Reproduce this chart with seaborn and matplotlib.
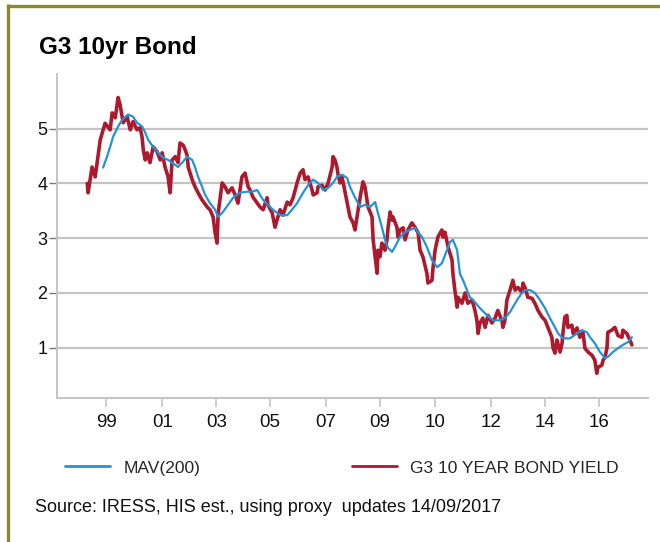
import numpy as np
import pandas as pd
import seaborn as sns
import matplotlib
matplotlib.use("Agg")
import matplotlib.pyplot as plt
from matplotlib.lines import Line2D

# G3 10-year bond yield (decimal years, percent)
yield_years = [
    1998.40, 1998.43, 1998.57, 1998.68, 1998.86, 1999.03, 1999.21, 1999.28, 1999.39, 1999.49,
    1999.56, 1999.67, 1999.81, 1999.92, 2000.02, 2000.16, 2000.27, 2000.34, 2000.38, 2000.45,
    2000.52, 2000.62, 2000.73, 2000.87, 2000.98, 2001.05, 2001.15, 2001.26, 2001.33, 2001.40,
    2001.51, 2001.61, 2001.68, 2001.79, 2001.86, 2001.93, 2001.97, 2002.11, 2002.21, 2002.32,
    2002.46, 2002.64, 2002.74, 2002.85, 2002.92, 2002.99, 2003.03, 2003.17, 2003.27, 2003.38,
    2003.52, 2003.63, 2003.73, 2003.87, 2003.98, 2004.09, 2004.16, 2004.26, 2004.41, 2004.51,
    2004.62, 2004.76, 2004.79, 2004.94, 2005.04, 2005.11, 2005.22, 2005.32, 2005.47, 2005.57,
    2005.68, 2005.82, 2005.93, 2006.03, 2006.10, 2006.21, 2006.35, 2006.39, 2006.53, 2006.56,
    2006.70, 2006.81, 2006.92, 2007.06, 2007.09, 2007.16, 2007.23, 2007.27, 2007.34, 2007.41,
    2007.52, 2007.59, 2007.69, 2007.80, 2007.87, 2007.94, 2008.05, 2008.15, 2008.22, 2008.29,
    2008.33, 2008.47, 2008.51, 2008.58, 2008.65, 2008.68, 2008.75, 2008.82, 2008.93, 2009.00,
    2009.04, 2009.11, 2009.18, 2009.21, 2009.35, 2009.39, 2009.46, 2009.57, 2009.64, 2009.74,
    2009.88, 2009.99, 2010.10, 2010.17, 2010.27, 2010.41, 2010.45, 2010.59, 2010.63, 2010.70,
    2010.80, 2010.94, 2010.98, 2011.05, 2011.16, 2011.30, 2011.33, 2011.40, 2011.48, 2011.51,
    2011.65, 2011.76, 2011.86, 2012.01, 2012.11, 2012.18, 2012.22, 2012.29, 2012.39, 2012.47,
    2012.57, 2012.71, 2012.82, 2012.92, 2013.07, 2013.10, 2013.17, 2013.24, 2013.35, 2013.45,
    2013.53, 2013.63, 2013.77, 2013.81, 2013.88, 2013.98, 2014.13, 2014.23, 2014.34, 2014.48,
    2014.59, 2014.69, 2014.83, 2014.87, 2014.94, 2015.01, 2015.12, 2015.19, 2015.22, 2015.29,
    2015.36, 2015.40, 2015.54, 2015.58, 2015.72, 2015.82, 2015.93, 2016.00, 2016.11, 2016.25,
    2016.35, 2016.42, 2016.46, 2016.60, 2016.64, 2016.71, 2016.78, 2016.81, 2016.95, 2017.06,
    2017.17, 2017.31, 2017.34, 2017.48, 2017.59, 2017.66,
]
yield_values = [
    4.00, 3.83, 4.30, 4.12, 4.80, 5.10, 4.98, 5.29, 5.20, 5.57,
    5.44, 5.11, 5.22, 4.98, 5.13, 4.98, 5.02, 4.84, 4.62, 4.43,
    4.56, 4.38, 4.67, 4.58, 4.43, 4.56, 4.30, 4.12, 3.83, 4.43,
    4.49, 4.38, 4.74, 4.70, 4.62, 4.52, 4.30, 4.07, 3.94, 3.83,
    3.70, 3.57, 3.52, 3.39, 3.10, 2.91, 3.46, 4.01, 3.94, 3.83,
    3.92, 3.79, 3.64, 4.12, 4.19, 3.94, 3.88, 3.75, 3.64, 3.57,
    3.52, 3.74, 3.61, 3.46, 3.20, 3.33, 3.52, 3.42, 3.66, 3.61,
    3.74, 4.01, 4.19, 4.25, 4.07, 4.12, 3.88, 3.79, 3.83, 3.94,
    3.97, 3.88, 4.01, 4.30, 4.49, 4.43, 4.30, 4.16, 4.01, 4.12,
    3.83, 3.64, 3.39, 3.28, 3.15, 3.39, 3.75, 4.03, 3.94, 3.70,
    3.57, 3.39, 2.97, 2.66, 2.36, 2.78, 2.66, 2.91, 2.78, 2.97,
    3.20, 3.48, 3.33, 3.39, 3.20, 3.02, 3.15, 3.19, 2.97, 3.15,
    3.28, 3.20, 3.10, 2.78, 2.66, 2.36, 2.18, 2.23, 2.47, 2.78,
    3.02, 3.15, 3.02, 3.11, 2.84, 2.60, 2.36, 2.05, 1.74, 1.92,
    1.81, 2.00, 1.81, 1.87, 1.68, 1.50, 1.26, 1.45, 1.54, 1.37,
    1.59, 1.45, 1.54, 1.68, 1.48, 1.37, 1.50, 1.87, 2.05, 2.23,
    2.05, 2.10, 2.01, 2.18, 2.10, 1.92, 1.90, 1.81, 1.68, 1.56,
    1.50, 1.37, 1.19, 1.00, 0.90, 1.14, 0.92, 1.08, 1.26, 1.56,
    1.59, 1.37, 1.41, 1.26, 1.36, 1.19, 1.28, 0.99, 0.92, 0.86,
    0.77, 0.53, 0.64, 0.68, 0.77, 0.82, 1.00, 1.28, 1.32, 1.37,
    1.22, 1.19, 1.32, 1.26, 1.14, 1.05,
]

# 200-day moving average of the yield
mav_years = [
    1998.96, 1999.10, 1999.21, 1999.31, 1999.49, 1999.63, 1999.84, 2000.02, 2000.16, 2000.34,
    2000.45, 2000.55, 2000.73, 2000.91, 2001.08, 2001.26, 2001.51, 2001.61, 2001.79, 2001.93,
    2002.11, 2002.21, 2002.32, 2002.46, 2002.57, 2002.74, 2002.92, 2003.03, 2003.20, 2003.38,
    2003.56, 2003.80, 2004.05, 2004.23, 2004.41, 2004.51, 2004.62, 2004.79, 2004.97, 2005.22,
    2005.47, 2005.64, 2005.82, 2006.03, 2006.21, 2006.39, 2006.56, 2006.74, 2006.92, 2007.09,
    2007.23, 2007.41, 2007.59, 2007.69, 2007.87, 2008.05, 2008.22, 2008.40, 2008.58, 2008.68,
    2008.82, 2008.93, 2009.04, 2009.18, 2009.28, 2009.46, 2009.64, 2009.81, 2009.99, 2010.10,
    2010.24, 2010.41, 2010.59, 2010.77, 2010.94, 2011.12, 2011.23, 2011.33, 2011.48, 2011.58,
    2011.69, 2011.83, 2011.93, 2012.04, 2012.29, 2012.54, 2012.75, 2012.99, 2013.17, 2013.35,
    2013.60, 2013.77, 2013.88, 2014.06, 2014.23, 2014.41, 2014.59, 2014.76, 2014.94, 2015.05,
    2015.22, 2015.47, 2015.72, 2015.89, 2016.07, 2016.18, 2016.35, 2016.53, 2016.71, 2016.81,
    2016.99, 2017.17, 2017.34, 2017.52, 2017.66,
]
mav_values = [
    4.29, 4.49, 4.67, 4.85, 5.04, 5.16, 5.26, 5.22, 5.11, 5.04,
    4.93, 4.80, 4.67, 4.56, 4.47, 4.43, 4.34, 4.30, 4.40, 4.49,
    4.43, 4.30, 4.12, 3.94, 3.79, 3.64, 3.52, 3.39, 3.48, 3.61,
    3.74, 3.83, 3.85, 3.85, 3.88, 3.79, 3.70, 3.61, 3.52, 3.42,
    3.42, 3.52, 3.64, 3.83, 3.97, 4.07, 4.01, 3.88, 3.92, 4.01,
    4.12, 4.16, 4.10, 3.94, 3.74, 3.57, 3.61, 3.57, 3.66, 3.46,
    3.20, 2.97, 2.82, 2.75, 2.84, 3.02, 3.11, 3.15, 3.19, 3.11,
    3.02, 2.84, 2.60, 2.47, 2.54, 2.78, 2.93, 2.97, 2.78, 2.35,
    2.23, 2.05, 1.92, 1.87, 1.72, 1.59, 1.50, 1.50, 1.54, 1.65,
    1.87, 2.00, 2.05, 2.05, 2.00, 1.87, 1.72, 1.54, 1.37, 1.26,
    1.17, 1.17, 1.26, 1.32, 1.28, 1.19, 1.08, 0.92, 0.81, 0.83,
    0.92, 0.99, 1.05, 1.10, 1.19,
]

tick_years = [1999.07, 2001.05, 2002.96, 2004.87, 2006.84, 2008.75, 2010.70, 2012.68, 2014.59, 2016.49]
tick_labels = ["99", "01", "03", "05", "07", "09", "10", "12", "14", "16"]
y_ticks = [1, 2, 3, 4, 5]

series_names = ["MAV(200)", "G3 10 YEAR BOND YIELD"]
colors = {"MAV(200)": "#2393d6", "G3 10 YEAR BOND YIELD": "#ad1a2e"}

yield_df = pd.DataFrame({"year": yield_years, "value": yield_values})
mav_df = pd.DataFrame({"year": mav_years, "value": mav_values})

sns.set_style("white")
plt.rcParams["font.family"] = ["Liberation Sans", "DejaVu Sans"]

fig = plt.figure(figsize=(6.6, 5.42), dpi=100)
ax = fig.add_axes([57 / 660, 1 - 398 / 542, (648 - 57) / 660, (398 - 74) / 542])

sns.lineplot(data=yield_df, x="year", y="value", ax=ax, color=colors[series_names[1]],
             linewidth=2.6, estimator=None, sort=False, label=series_names[1], zorder=3)
sns.lineplot(data=mav_df, x="year", y="value", ax=ax, color=colors[series_names[0]],
             linewidth=1.6, estimator=None, sort=False, label=series_names[0], zorder=4)

ax.set_xlim(1997.33, 2018.23)
ax.set_ylim(0.08, 6.0)
ax.set_xticks(tick_years)
ax.set_xticklabels(tick_labels)
ax.set_yticks(y_ticks)
ax.set_xlabel("")
ax.set_ylabel("")

ax.yaxis.grid(True, color="#c4c4c4", linewidth=1.6)
ax.xaxis.grid(False)
ax.set_axisbelow(True)
for side in ("top", "right"):
    ax.spines[side].set_visible(False)
for side in ("left", "bottom"):
    ax.spines[side].set_color("#c4c4c4")
    ax.spines[side].set_linewidth(1.4)

ax.tick_params(axis="y", which="major", left=True, length=6, width=1, color="#7a7a7a",
               pad=1, labelsize=13, labelcolor="#111111")
ax.tick_params(axis="x", which="major", bottom=True, length=6.5, width=1.3, color="#c8c8c8",
               pad=5, labelsize=13.5, labelcolor="#111111")

handles, labels = ax.get_legend_handles_labels()
order = [labels.index(n) for n in series_names]
leg = ax.legend([handles[i] for i in order], [labels[i] for i in order],
                loc="center left", bbox_to_anchor=(65 / 660, 1 - 468 / 542),
                bbox_transform=fig.transFigure, ncol=2, frameon=False,
                fontsize=12.5, handlelength=2.6, handletextpad=0.75,
                columnspacing=8.75, borderpad=0, borderaxespad=0)
for line in leg.get_lines():
    line.set_linewidth(2.0)

fig.text(39 / 660, 1 - 54 / 542, "G3 10yr Bond", fontsize=17.5, fontweight="bold",
         ha="left", va="baseline", color="#000000")
fig.text(35 / 660, 1 - 508 / 542, "Source: IRESS, HIS est., using proxy  updates 14/09/2017",
         fontsize=13, ha="left", va="center", color="#111111")

# olive frame along the top and left edges
olive = "#8a8a2c"
fig.add_artist(Line2D([7 / 660, 1.0], [1 - 5.5 / 542, 1 - 5.5 / 542], transform=fig.transFigure,
                      color=olive, linewidth=2.4, solid_capstyle="butt"))
fig.add_artist(Line2D([7.5 / 660, 7.5 / 660], [0.0, 1 - 4 / 542], transform=fig.transFigure,
                      color=olive, linewidth=2.4, solid_capstyle="butt"))

fig.savefig("out.png", dpi=100)
